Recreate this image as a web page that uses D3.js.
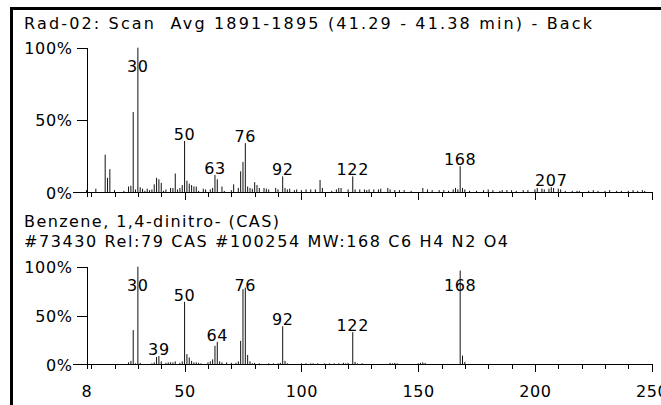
<!DOCTYPE html>
<html>
<head>
<meta charset="utf-8">
<script src="https://cdn.jsdelivr.net/npm/d3@7/dist/d3.min.js"></script>
<style>
  body { margin: 0; background: #fff; }
  svg { display: block; font-family: "DejaVu Sans", sans-serif; }
  .peak { stroke: #111; stroke-width: 1; }
  .axis path, .axis line { stroke: #000; shape-rendering: crispEdges; }
  .axis text, .plabel { font-size: 16px; letter-spacing: 0.6px; fill: #000; }
  .head { font-size: 16px; fill: #000; white-space: pre; }
</style>
</head>
<body>
<script>
// scan spectrum (top): m/z and relative abundance (%)
const scanMz = [8, 12, 16, 17, 18, 20, 24, 26, 27, 28, 29, 30, 31, 32, 33, 34, 35, 36, 37, 38, 39, 40, 41, 42,
  44, 45, 46, 47, 48, 49, 50, 51, 52, 53, 54, 55, 56, 58, 59, 61, 62, 63, 64, 66, 67, 70, 71, 73, 74, 75, 76,
  77, 78, 79, 80, 81, 82, 84, 85, 86, 89, 90, 92, 93, 94, 95, 97, 98, 100, 102, 104, 106, 108, 109, 113, 115,
  116, 117, 120, 122, 123, 125, 127, 128, 129, 131, 133, 134, 137, 138, 140, 142, 144, 147, 152, 154, 156,
  159, 161, 163, 165, 166, 167, 168, 169, 170, 172, 175, 178, 180, 182, 185, 186, 188, 190, 192, 195, 197,
  200, 201, 203, 204, 206, 207, 208, 210, 211, 213, 216, 218, 219, 223, 225, 227, 230, 232, 235, 237, 240,
  242, 244, 246, 247];
const scanAbund = [1.5, 2.5, 26, 10, 16, 1.5, 1, 4, 4.5, 55.5, 2, 100, 3.5, 2.5, 1, 2.5, 1.5, 2, 5.5, 10, 9, 6.5, 1, 2,
  3, 3, 13, 2, 3, 5, 35.5, 8, 6, 5, 4, 4, 1, 2.5, 2, 2, 3, 12, 9, 4, 1, 1.5, 5.5, 3, 14.5, 21, 34,
  4, 3, 2.5, 7, 5, 3, 3, 2.5, 2, 3, 2, 11, 3, 2, 2.5, 1.5, 2, 1.5, 2, 2, 2, 8.5, 3, 1, 2,
  3, 3, 2, 11, 2, 2, 2, 1.5, 2, 2, 2, 2.5, 3, 2, 1.5, 1.5, 1.5, 1, 3, 2, 1.5,
  1.5, 1.5, 1, 2, 3, 2, 18, 3, 2, 1, 1, 1.5, 2, 1.5, 1, 1.5, 1.5, 1.5, 1, 1.5, 1.5,
  2, 3, 2.5, 2, 2.5, 3.5, 3, 2.5, 2, 1, 1, 1, 1, 1, 1.5, 1, 1, 1.5, 1, 1, 1,
  1.5, 1, 1.5, 1];
const scanLabels = [30, 50, 63, 76, 92, 122, 168, 207];

// library spectrum (bottom): Benzene, 1,4-dinitro-
const libMz = [26, 27, 28, 29, 30, 31, 36, 37, 38, 39, 40, 42, 43, 44, 45, 46, 48, 49, 50, 51, 52, 53, 54, 55,
  56, 57, 60, 61, 62, 63, 64, 65, 66, 68, 70, 72, 73, 74, 75, 76, 77, 78, 79, 80, 82, 86, 88, 90, 91, 92, 93,
  94, 100, 102, 104, 105, 107, 110, 112, 114, 116, 118, 119, 120, 122, 123, 124, 126, 138, 139, 140, 141,
  150, 151, 152, 153, 168, 169, 170];
const libAbund = [2, 3.5, 35, 1, 100, 1.5, 1, 2, 7.5, 8.5, 3, 1.5, 2, 2, 2, 3, 1.5, 3, 64, 10.5, 7, 3.5, 2, 2,
  1.5, 1, 2, 3, 5, 19, 23, 3, 2, 2, 1.5, 1.5, 3, 24, 77, 78.5, 9.5, 3, 1, 1.5, 1, 1, 1, 1, 1.5, 39, 3.5,
  1, 1, 1, 1, 1, 1, 1, 1, 1, 1, 1.5, 1, 1.5, 33, 2.5, 1, 1, 1.5, 1, 1.5, 1,
  1, 1.5, 2, 1.5, 96, 9, 2.5];
const libLabels = [30, 39, 50, 64, 76, 92, 122, 168];

const yTicks = [0, 50, 100];
const xMajor = [8, 50, 100, 150, 200, 250];
const xMinor = [8].concat(d3.range(10, 251, 10));

const titleText = 'Rad-02: Scan  Avg 1891-1895 (41.29 - 41.38 min) - Back';
const libName = 'Benzene, 1,4-dinitro- (CAS)';
const libInfo = '#73430 Rel:79 CAS #100254 MW:168 C6 H4 N2 O4';

const W = 661, H = 405;
const svg = d3.select('body').append('svg').attr('width', W).attr('height', H);
svg.append('rect').attr('width', W).attr('height', H).attr('fill', '#fff');

// frame (left + top rule)
svg.append('rect').attr('x', 10).attr('y', 7).attr('width', W - 10).attr('height', 3).attr('fill', '#000');
svg.append('rect').attr('x', 10).attr('y', 7).attr('width', 3).attr('height', H - 7).attr('fill', '#000');

const x = d3.scaleLinear().domain([8, 250]).range([86.5, 651.7]);

function panel(mz, abund, labels, top, bottom, showLabels) {
  const y = d3.scaleLinear().domain([0, 100]).range([bottom, top]);
  const g = svg.append('g');

  // y axis
  const ya = g.append('g').attr('class', 'axis')
    .attr('transform', 'translate(' + x.range()[0] + ',0)')
    .call(d3.axisLeft(y).tickValues(yTicks).tickSize(10).tickSizeOuter(0).tickPadding(4)
      .tickFormat(d => d + '%'));
  ya.selectAll('text').attr('font-size', null).attr('font-family', null).attr('dy', '0.36em');
  ya.attr('font-size', null).attr('font-family', null);
  ya.selectAll('.tick').filter(d => d === 0).select('line').attr('x2', -14);

  // x axis: minor ticks, then major ticks
  const xa = g.append('g').attr('class', 'axis')
    .attr('transform', 'translate(0,' + bottom + ')')
    .call(d3.axisBottom(x).tickValues(xMinor).tickSize(5).tickSizeOuter(0).tickFormat(''));
  xa.attr('font-size', null).attr('font-family', null);
  const xb = g.append('g').attr('class', 'axis')
    .attr('transform', 'translate(0,' + bottom + ')')
    .call(d3.axisBottom(x).tickValues(xMajor).tickSize(8).tickSizeOuter(0)
      .tickFormat(showLabels ? d3.format('d') : ''));
  xb.attr('font-size', null).attr('font-family', null);
  xb.select('.domain').remove();
  xb.selectAll('.tick').filter(d => d === 8).select('line').attr('y2', 5);
  xb.selectAll('text').attr('y', 21).attr('dy', '0.71em');

  // peaks
  g.selectAll('line.peak')
    .data(mz.map((m, i) => ({ m: m, v: abund[i] })))
    .join('line')
    .attr('class', 'peak')
    .attr('x1', d => x(d.m)).attr('x2', d => x(d.m))
    .attr('y1', y(0)).attr('y2', d => y(d.v));

  // peak labels
  g.selectAll('text.plabel')
    .data(labels)
    .join('text')
    .attr('class', 'plabel')
    .attr('text-anchor', 'middle')
    .attr('x', d => x(d))
    .attr('y', d => Math.max(y(abund[mz.indexOf(d)]) - 1, top + 24))
    .text(d => d);
}

panel(scanMz, scanAbund, scanLabels, 47.7, 192.3, false);
panel(libMz, libAbund, libLabels, 266.7, 364.3, true);

svg.append('text').attr('class', 'head').attr('x', 24).attr('y', 29)
  .attr('textLength', 568).attr('lengthAdjust', 'spacing').text(titleText);
svg.append('text').attr('class', 'head').attr('x', 24).attr('y', 227)
  .attr('textLength', 255).attr('lengthAdjust', 'spacing').text(libName);
svg.append('text').attr('class', 'head').attr('x', 24).attr('y', 247)
  .attr('textLength', 484).attr('lengthAdjust', 'spacing').text(libInfo);
</script>
</body>
</html>
